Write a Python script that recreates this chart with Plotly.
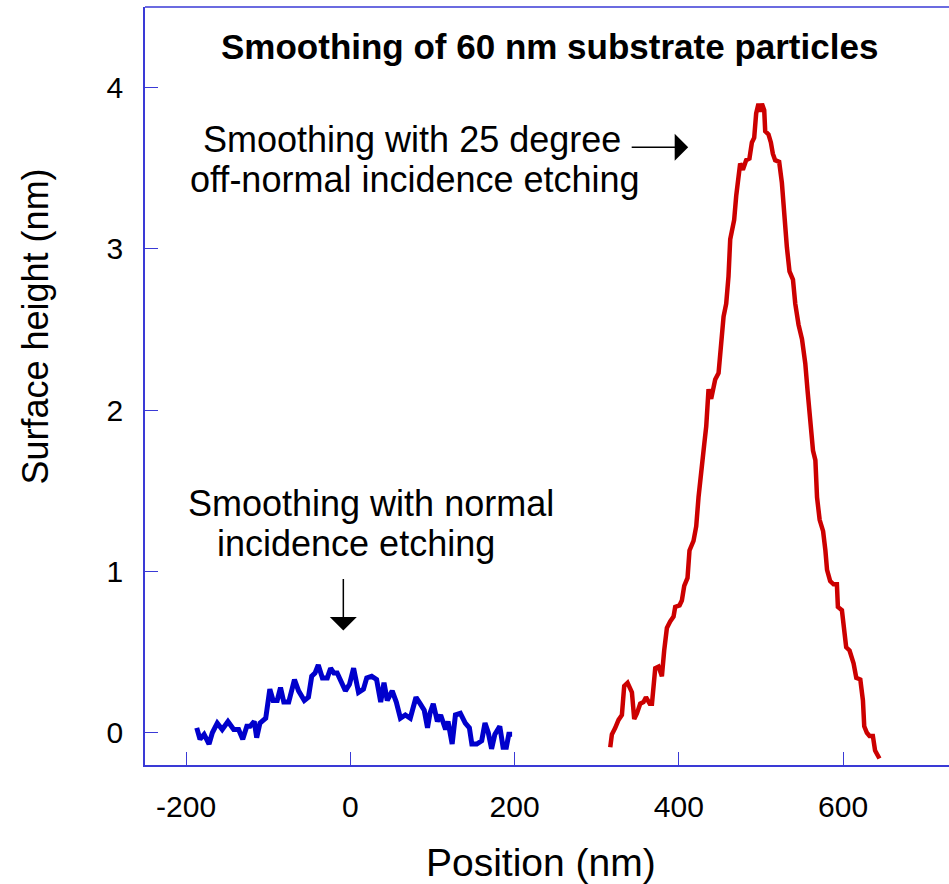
import plotly.graph_objects as go

# Normal incidence etching profile (blue)
normal_x = [-187, -183, -178, -172, -168, -162, -156, -149, -142, -136, -131, -126, -122, -117, -114,
            -110, -103, -101, -98, -94, -89, -85, -81, -75, -68, -63, -56, -51, -47, -43, -39, -34,
            -28, -24, -20, -16, -10, -6, -1, 4, 10, 16, 20, 26, 32, 37, 41, 45, 51, 56, 61, 67, 73,
            77, 80, 85, 90, 94, 97, 101, 106, 110, 116, 119, 124, 128, 134, 140, 145, 148, 154, 160,
            164, 168, 172, 176, 182, 186, 190, 193, 197]
normal_y = [0.03, -0.04, -0.01, -0.07, 0.0, 0.06, 0.02, 0.07, 0.02, 0.02, -0.04, 0.04, 0.04, 0.07, -0.03,
            0.06, 0.09, 0.16, 0.27, 0.20, 0.20, 0.28, 0.19, 0.19, 0.33, 0.26, 0.20, 0.22, 0.35, 0.37, 0.42, 0.34,
            0.34, 0.40, 0.37, 0.37, 0.31, 0.26, 0.30, 0.40, 0.25, 0.27, 0.34, 0.35, 0.33, 0.19, 0.31, 0.20,
            0.26, 0.19, 0.09, 0.11, 0.09, 0.16, 0.22, 0.18, 0.14, 0.03, 0.12, 0.18, 0.07, 0.11, 0.02, 0.07,
            -0.07, 0.11, 0.12, 0.06, 0.03, -0.07, -0.07, -0.05, 0.06, 0.0, -0.10, -0.01, 0.04, -0.09, -0.09,
            -0.01, -0.01]

# Off-normal (25 degree) incidence etching profile (red)
offnormal_x = [316.5, 318.5, 322.6, 326.6, 330.7, 333.5, 337.6, 342.9, 345.7, 349, 353, 357, 360, 364.6,
               367.3, 371.3, 375.3, 379.4, 382.2, 385.5, 389.5, 393.6, 395.6, 400.9, 403.7, 406.6, 410.6,
               413, 417.9, 421.2, 424, 427.3, 431, 433.4, 435, 436.2, 439.4, 444.3, 448.4, 451.3, 454.5,
               457.7, 460.5, 462.6, 465.8, 467.4, 469.9, 472.7, 474.7, 478, 482, 486, 489, 491.8, 494.2,
               497, 499, 501.2, 504, 505.2, 509.2, 512.1, 514.5, 517.3, 522.2, 525.5, 528.3, 531.6, 534.8,
               539, 541.8, 545.8, 550, 554, 556.8, 559.3, 563.4, 566.3, 568.3, 571.5, 575.7, 578.5, 580.5,
               584.3, 588.4, 592.5, 593.7, 598.6, 603.8, 607.9, 612.8, 616.1, 621, 624.2, 625.8, 629,
               632.2, 636.3, 639, 644.3]
offnormal_y = [-0.09, -0.01, 0.03, 0.08, 0.11, 0.29, 0.31, 0.25, 0.085, 0.12, 0.18, 0.19, 0.22, 0.18,
               0.18, 0.40, 0.41, 0.35, 0.51, 0.65, 0.69, 0.72, 0.78, 0.79, 0.82, 0.91, 0.96,
               1.13, 1.19, 1.28, 1.46, 1.65, 1.79, 1.90, 2.05, 2.13, 2.07, 2.19, 2.23, 2.39, 2.58,
               2.66, 2.83, 3.06, 3.14, 3.18, 3.33, 3.49, 3.53, 3.49, 3.55, 3.56, 3.66, 3.69, 3.84,
               3.90, 3.85, 3.90, 3.86, 3.73, 3.71, 3.66, 3.59, 3.55, 3.54, 3.41, 3.20, 3.01, 2.86,
               2.81, 2.66, 2.53, 2.44, 2.29, 2.12, 1.96, 1.75, 1.69, 1.46, 1.32, 1.25, 1.13, 1.01,
               0.94, 0.92, 0.92, 0.78, 0.76, 0.53, 0.51, 0.43, 0.34, 0.33, 0.20, 0.04, 0.0,
               -0.02, -0.02, -0.11, -0.16]

x_ticks = [-200, 0, 200, 400, 600]
x_tick_labels = ["-200", "0", "200", "400", "600"]
y_ticks = [0, 1, 2, 3, 4]
y_tick_labels = ["0", "1", "2", "3", "4"]

title_text = "<b>Smoothing of 60 nm substrate particles</b>"
x_title = "Position (nm)"
y_title = "Surface height (nm)"

FONT = "Liberation Sans, Arial, sans-serif"
AXIS_COLOR = "#3a3ad6"

fig = go.Figure()
fig.add_trace(go.Scatter(x=normal_x, y=normal_y, mode="lines",
                         line=dict(color="#0000cc", width=5), showlegend=False))
fig.add_trace(go.Scatter(x=offnormal_x, y=offnormal_y, mode="lines",
                         line=dict(color="#cc0000", width=4.5), showlegend=False))

fig.update_layout(
    width=949, height=884,
    margin=dict(l=145, r=0, t=7, b=119),
    paper_bgcolor="white", plot_bgcolor="white",
    font=dict(family=FONT, color="black"),
    showlegend=False,
)
fig.update_xaxes(range=[-250, 729], tickvals=x_ticks, ticktext=x_tick_labels,
                 ticks="inside", ticklen=13,
                 tickcolor=AXIS_COLOR, tickwidth=1.2, showline=True, linecolor=AXIS_COLOR,
                 linewidth=1.5, showgrid=False, zeroline=False,
                 tickfont=dict(size=30, family=FONT, color="black"), ticklabelstandoff=14)
fig.update_yaxes(range=[-0.2, 4.5], tickvals=y_ticks, ticktext=y_tick_labels,
                 ticks="inside", ticklen=13,
                 tickcolor=AXIS_COLOR, tickwidth=1.2, showline=True, linecolor=AXIS_COLOR,
                 linewidth=1.5, showgrid=False, zeroline=False,
                 tickfont=dict(size=30, family=FONT, color="black"), ticklabelstandoff=14)

# top border
fig.add_shape(type="line", xref="paper", yref="paper", x0=0, x1=1, y0=1, y1=1,
              line=dict(color=AXIS_COLOR, width=1.5))

# title & axis titles
fig.add_annotation(text=title_text, xref="paper", yref="paper", x=0.503, y=0.948,
                   showarrow=False, font=dict(size=35, family=FONT, color="black"),
                   xanchor="center", yanchor="middle")
fig.add_annotation(text=x_title, xref="paper", yref="paper", x=0.4925, y=-0.128,
                   showarrow=False, font=dict(size=39, family=FONT, color="black"),
                   xanchor="center", yanchor="middle")
fig.add_annotation(text=y_title, xref="paper", yref="paper", x=-0.136, y=0.578,
                   showarrow=False, textangle=-90, font=dict(size=36, family=FONT, color="black"),
                   xanchor="center", yanchor="middle")

# text labels
lab_font = dict(size=36, family=FONT, color="black")
fig.add_annotation(text="Smoothing with 25 degree", x=75, y=3.677, showarrow=False,
                   font=lab_font, xanchor="center", yanchor="middle")
fig.add_annotation(text="off-normal incidence etching", x=79, y=3.43, showarrow=False,
                   font=lab_font, xanchor="center", yanchor="middle")
fig.add_annotation(text="Smoothing with normal", x=25.6, y=1.422, showarrow=False,
                   font=lab_font, xanchor="center", yanchor="middle")
fig.add_annotation(text="incidence etching", x=7.3, y=1.174, showarrow=False,
                   font=lab_font, xanchor="center", yanchor="middle")

# arrows
fig.add_annotation(x=411.4, y=3.63, ax=340.8, ay=3.63, axref="x", ayref="y",
                   xref="x", yref="y", text="", showarrow=True, arrowhead=1,
                   arrowsize=3, arrowwidth=1.5, arrowcolor="black")
fig.add_annotation(x=-8.5, y=0.634, ax=-8.5, ay=0.963, axref="x", ayref="y",
                   xref="x", yref="y", text="", showarrow=True, arrowhead=1,
                   arrowsize=3, arrowwidth=1.5, arrowcolor="black")

fig.write_html("out.html")
